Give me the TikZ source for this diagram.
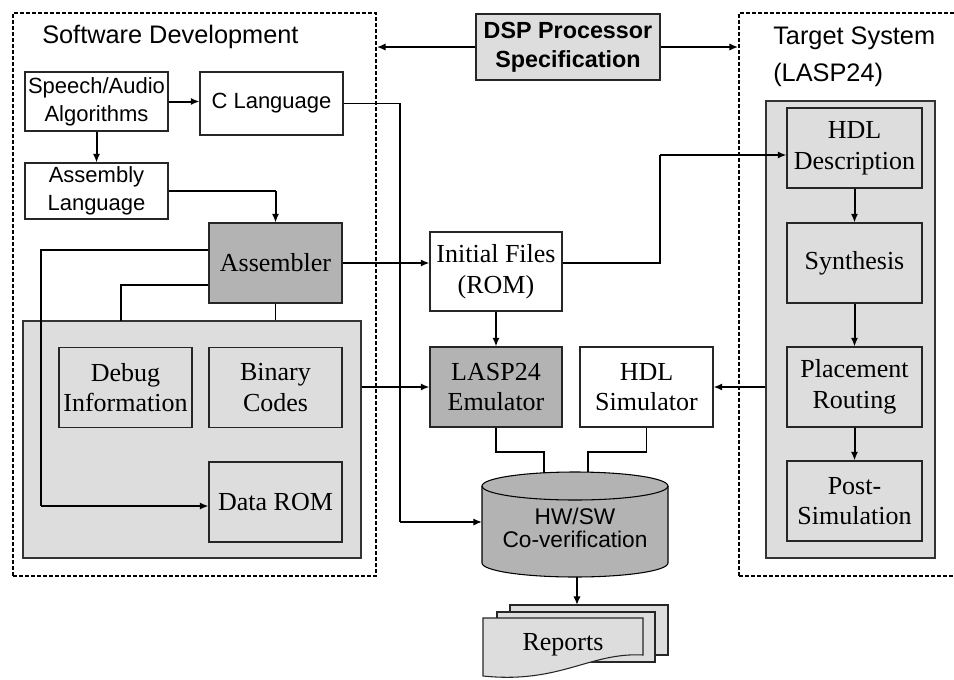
\documentclass[tikz,border=0pt]{standalone}
\usepackage{fontspec}
\setmainfont{Liberation Serif}
\setsansfont{Liberation Sans}
\usepackage{tikz}
\usetikzlibrary{arrows.meta}
\definecolor{panelgray}{HTML}{DDDDDD}
\definecolor{boxgray}{HTML}{B3B3B3}
\newcommand{\serifsize}{\fontsize{19.5}{23}\selectfont}
\newcommand{\sanssize}{\sffamily\fontsize{16.5}{21}\selectfont}

\begin{document}
\begin{tikzpicture}[x=0.75pt,y=-0.75pt,
							frame/.style={draw, line width=1.3pt, dash pattern=on 3pt off 1.5pt, inner sep=0pt},
							panel/.style={draw=black!80, fill=panelgray, line width=0.8pt, inner sep=0pt},
							box/.style={draw=black!85, fill=white, line width=0.8pt, inner sep=0pt, align=center, minimum width=99.75pt, minimum height=60pt, font=\serifsize},
							sansbox/.style={box, font=\sanssize, minimum width=107.25pt},
							page/.style={draw=black!85, fill=panelgray, line width=0.8pt},
							arr/.style={line width=1.5pt, -{Latex[length=6.5pt,width=5.5pt]}},
							link/.style={line width=0.8pt},
							]
							\useasboundingbox (0,0) rectangle (954,679);
							%Frames and panels
							\node[frame, minimum width=272.25pt, minimum height=422.25pt] (swframe) at (194.5,294.5) {};
							\node[frame, minimum width=173.25pt, minimum height=422.25pt] (hwframe) at (854.5,294.5) {};
							\node[anchor=west, inner sep=0pt, font=\sffamily\fontsize{19}{23}\selectfont] (swtitle) at (42,37) {Software Development};
							\node[anchor=north west, align=left, inner sep=0pt, font=\sffamily\fontsize{19}{27.5}\selectfont] (hwtitle) at (773,27) {Target System\\(LASP24)};
							\node[panel, minimum width=253.5pt, minimum height=177.75pt] (swpanel) at (192,439.5) {};
							\node[panel, minimum width=126.75pt, minimum height=342.75pt] (hwpanel) at (850.5,329.5) {};
							
							%Nodes
							\node[box, fill=panelgray, font=\sffamily\bfseries\fontsize{17.5}{22}\selectfont, minimum width=138pt, minimum height=49.5pt] (spec) at (568,47) {DSP Processor\\Specification};
							\node[sansbox, minimum height=44.25pt]   (speech)  at (96.5,101.5)  {Speech/Audio\\Algorithms};
							\node[sansbox, minimum height=47.25pt]   (clang)   at (271.5,103.5) {C Language};
							\node[sansbox, minimum height=42pt]      (asmlang) at (96.5,191)    {Assembly\\Language};
							\node[box, fill=boxgray]                 (asm)     at (275.5,263)   {Assembler};
							\node[box, fill=panelgray]               (debug)   at (125.5,387.5) {Debug\\Information};
							\node[box, fill=panelgray]               (binary)  at (275.5,387.5) {Binary\\Codes};
							\node[box, fill=panelgray]               (datarom) at (275.5,502)   {Data ROM};
							\node[box, minimum width=99pt, minimum height=59.25pt] (init) at (496,271.5) {Initial Files\\(ROM)};
							\node[box, fill=boxgray, minimum width=99pt] (emu) at (496,387) {LASP24\\Emulator};
							\node[box]                               (hdlsim)  at (646.5,387)   {HDL\\Simulator};
							\node[box, fill=panelgray, minimum width=101.25pt] (hdldesc) at (854.5,148) {HDL\\Description};
							\node[box, fill=panelgray, minimum width=101.25pt] (synth)   at (854.5,263) {Synthesis};
							\node[box, fill=panelgray, minimum width=101.25pt] (place)   at (854.5,387) {Placement\\Routing};
							\node[box, fill=panelgray, minimum width=101.25pt] (post)    at (854.5,501) {Post-\\Simulation};
							
							%Co-verification cylinder
							\draw[fill=boxgray, line width=0.8pt] (482,486) -- (482,563) arc[start angle=180, end angle=360, x radius=69.75pt, y radius=10.5pt] -- (668,486) arc[start angle=0, end angle=180, x radius=69.75pt, y radius=10.5pt] -- cycle;
							\draw[line width=0.8pt] (482,486) arc[start angle=180, end angle=360, x radius=69.75pt, y radius=10.5pt];
							\node[align=center, inner sep=0pt, font=\sffamily\fontsize{17}{17.5}\selectfont] (cosim) at (575,528) {HW/SW\\Co-verification};
							\coordinate (cylw)    at (482,522);
							\coordinate (cyltopa) at (544,473);
							\coordinate (cyltopb) at (588,472);
							\coordinate (cylbot)  at (577,577);
							
							%Reports
							\draw[page] (510,605) rectangle (668,655);
							\draw[page] (497,612) rectangle (655,662);
							\draw[page] (483,618) -- (643,618) -- (643,655) .. controls (590,652) and (560,684) .. (483,676) -- cycle;
							\node[font=\serifsize] (reports) at (563,645) {Reports};
							\coordinate (reptop) at (577,605);
							
							%Bends
							\coordinate (cbend) at (400,522);
							\coordinate (dbend) at (41,506);
							\coordinate (pbend) at (121,321);
							\coordinate (ibend) at (660,155);
							\coordinate (ejoin) at (544,452);
							\coordinate (sjoin) at (588,452);
							
							%Connectors
							\draw[arr] (spec.west) -- (spec.west -| swframe.east);
							\draw[arr] (spec.east) -- (spec.east -| hwframe.west);
							\draw[arr] (speech.east) -- (speech.east -| clang.west);
							\draw[arr] (speech.south) -- (asmlang.north);
							\draw[link] (asmlang.east) -- (asmlang.east -| asm.north);
							\draw[arr] (asmlang.east -| asm.north) -- (asm.north);
							\draw[link] (clang.east) -| (cbend);
							\draw[arr] (cbend) -- (cylw);
							\draw[link] ([yshift=9.75pt]asm.west) -| (dbend);
							\draw[arr] (dbend) -- (dbend -| datarom.west);
							\draw[link] ([yshift=-16.5pt]asm.west) -| (pbend);
							\draw[link] (asm.south) -- (asm.south |- swpanel.north);
							\draw[arr] (asm.east) -- (asm.east -| init.west);
							\draw[link] (asm.east -| init.east) -| (ibend);
							\draw[arr] (ibend) -- (ibend -| hdldesc.west);
							\draw[arr] (init) -- (emu);
							\draw[arr] (swpanel.east |- emu.west) -- (emu.west);
							\draw[arr] (hwpanel.west |- hdlsim.east) -- (hdlsim.east);
							\draw[arr] (hdldesc) -- (synth);
							\draw[arr] (synth) -- (place);
							\draw[arr] (place) -- (post);
							\draw[link] (emu.south) |- (ejoin) -- (cyltopa);
							\draw[link] (hdlsim.south) |- (sjoin) -- (cyltopb);
							\draw[arr] (cylbot) -- (reptop);
\end{tikzpicture}
\end{document}
